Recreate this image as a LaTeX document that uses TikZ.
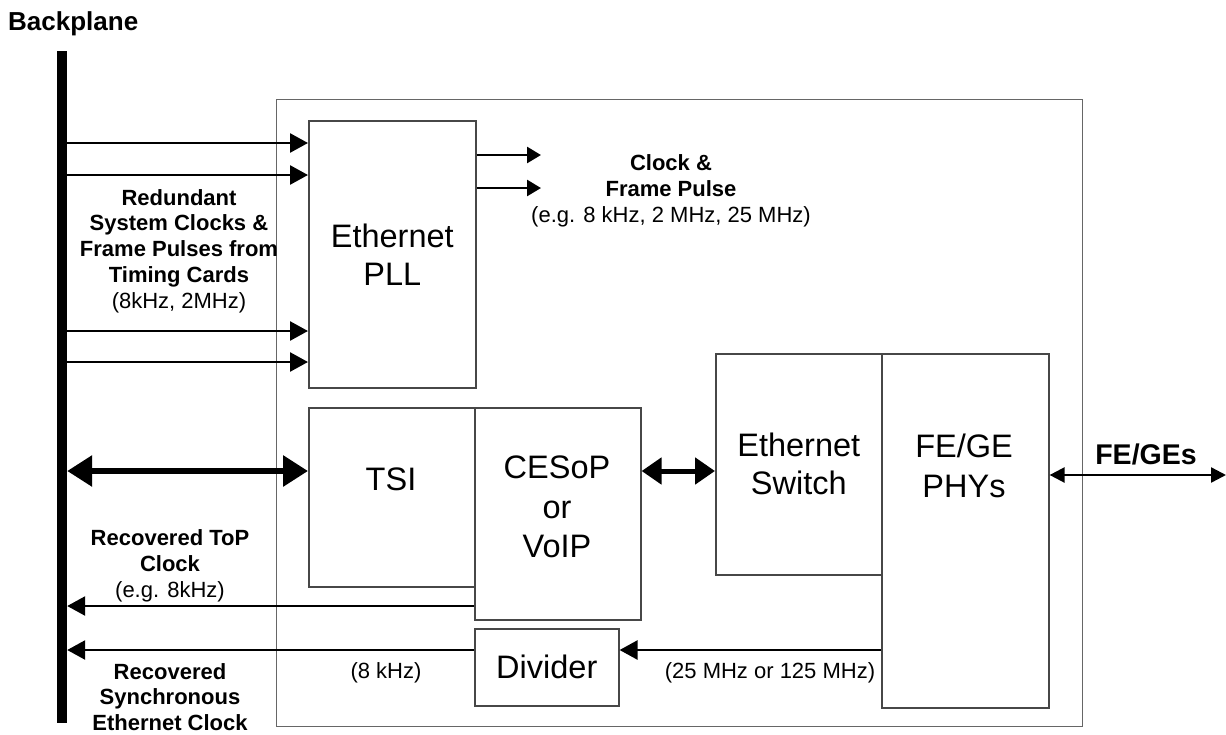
\documentclass[tikz,border=0pt]{standalone}
\usepackage{fontspec}
\setmainfont{Liberation Sans}
\usetikzlibrary{arrows.meta}

\begin{document}
\begin{tikzpicture}[
  x=1pt, y=-1pt,
  box/.style={draw=black!72, line width=1.6pt, inner sep=0pt, anchor=north west, align=center, font=\fontsize{32.5}{38}\selectfont},
  txt/.style={inner sep=0pt, align=center, font=\fontsize{32.5}{39.5}\selectfont},
  lbl/.style={inner sep=0pt, align=center, font=\fontsize{22}{25.8}\selectfont\bfseries},
  note/.style={inner sep=0pt, anchor=base, font=\fontsize{22}{25.8}\selectfont},
  arr/.style={-{Triangle[length=18pt,width=19pt]}, line width=2.6pt},
  arrs/.style={-{Triangle[length=14pt,width=16pt]}, line width=2.6pt},
  dbl/.style={{Triangle[length=25pt,width=30pt]}-{Triangle[length=25pt,width=30pt]}, line width=6pt},
  dbls/.style={{Triangle[length=20pt,width=26pt]}-{Triangle[length=20pt,width=26pt]}, line width=5pt},
  dbln/.style={{Triangle[length=15pt,width=15pt]}-{Triangle[length=15pt,width=15pt]}, line width=2.4pt}
]
\useasboundingbox (0,0) rectangle (1226,734);

\node[inner sep=0pt, anchor=base west, font=\fontsize{26}{30}\selectfont\bfseries] (bpl) at (8,30) {Backplane};
\node[fill=black, inner sep=0pt, minimum width=10pt, minimum height=672pt, anchor=north] (bp) at (62,51) {};

\node[box, draw=black!60, line width=1.3pt, minimum width=806pt, minimum height=627pt] (card) at (276,99) {};
\node[box, minimum width=167pt, minimum height=267pt] (pll) at (308,120) {Ethernet\\PLL};
\node[box, minimum width=166pt, minimum height=179pt] (tsi) at (308,407) {};
\node[box, minimum width=166pt, minimum height=212pt] (ces) at (474,407) {};
\node[box, minimum width=144pt, minimum height=77pt] (div) at (474,628) {Divider};
\node[box, minimum width=166pt, minimum height=221pt] (sw) at (715,353) {Ethernet\\Switch};
\node[box, minimum width=167pt, minimum height=354pt] (phy) at (881,353) {};

\node[txt, anchor=base] (tsit) at (391,490) {TSI};
\node[txt] (cest) at (557,507) {CESoP\\or\\VoIP};
\node[txt] (phyt) at (964,466) {FE/GE\\PHYs};

\node[lbl] (red) at (179,251) {Redundant\\System Clocks \&\\Frame Pulses from\\Timing Cards\\\mdseries(8kHz, 2MHz)};
\node[lbl] (cfp) at (671,191) {Clock \&\\Frame Pulse\\\mdseries(e.g. 8 kHz, 2 MHz, 25 MHz)};
\node[lbl] (rtop) at (170,566) {Recovered ToP\\Clock\\\mdseries(e.g. 8kHz)};
\node[lbl] (rsec) at (170,697) {Recovered\\Synchronous\\Ethernet Clock};
\node[note] (khz) at (386,678) {(8 kHz)};
\node[note] (mhz) at (770,678) {(25 MHz or 125 MHz)};
\node[inner sep=0pt, anchor=base, font=\fontsize{28.5}{33}\selectfont\bfseries] (fege) at (1146,464) {FE/GEs};

\coordinate (o1) at (541,155);
\coordinate (o2) at (541,188);
\coordinate (net) at (1226,475);

\foreach \y in {143,175,331,362}
  \draw[arr] (bp.east |- 0,\y) -- (pll.west |- 0,\y);
\draw[arrs] (pll.east |- o1) -- (o1);
\draw[arrs] (pll.east |- o2) -- (o2);
\draw[dbl] (bp.east |- 0,471) -- (tsi.west |- 0,471);
\draw[dbls] (ces.east |- 0,471) -- (sw.west |- 0,471);
\draw[dbln] (phy.east |- net) -- (net);
\draw[arr] (ces.west |- 0,606) -- (bp.east |- 0,606);
\draw[arr] (div.west |- 0,650) -- (bp.east |- 0,650);
\draw[arr] (phy.west |- 0,650) -- (div.east |- 0,650);
\end{tikzpicture}
\end{document}
